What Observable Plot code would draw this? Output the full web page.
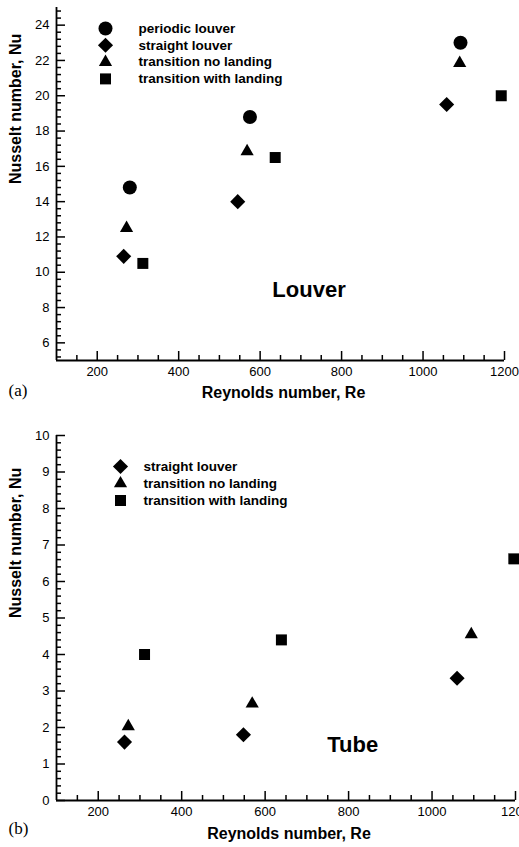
<!DOCTYPE html>
<html><head><meta charset="utf-8">
<script src="https://cdn.jsdelivr.net/npm/d3@7"></script>
<script src="https://cdn.jsdelivr.net/npm/@observablehq/plot@0.6"></script>
<style>body{margin:0;background:#fff;} #chart svg{display:block;overflow:visible}</style>
</head><body><div id="chart"></div>
<script>
// ---- data ----
const seriesNames = ["periodic louver", "straight louver", "transition no landing", "transition with landing"];

const louverPeriodicRe = [280, 575, 1092];
const louverPeriodicNu = [14.8, 18.8, 23.0];
const louverStraightRe = [265, 545, 1058];
const louverStraightNu = [10.9, 14.0, 19.5];
const louverNoLandRe = [272, 568, 1090];
const louverNoLandNu = [12.5, 16.85, 21.85];
const louverLandRe = [312, 637, 1192];
const louverLandNu = [10.5, 16.5, 20.0];

const tubeStraightRe = [263, 548, 1060];
const tubeStraightNu = [1.6, 1.8, 3.35];
const tubeNoLandRe = [272, 569, 1094];
const tubeNoLandNu = [2.03, 2.65, 4.55];
const tubeLandRe = [311, 639, 1196];
const tubeLandNu = [4.0, 4.4, 6.62];

const reTicks = [200, 400, 600, 800, 1000, 1200];
const louverNuTicks = [6, 8, 10, 12, 14, 16, 18, 20, 22, 24];
const tubeNuTicks = [0, 1, 2, 3, 4, 5, 6, 7, 8, 9, 10];

const xLabel = "Reynolds number, Re";
const yLabel = "Nusselt number, Nu";

// ---- helpers ----
const FONT = "Liberation Sans, Arial, Helvetica, sans-serif";
const W = 519, ML = 56, X0 = 100, X1 = 1200;
const zip = (xs, ys) => xs.map((x, i) => ({x, y: ys[i]}));
const symbolOf = {"periodic louver": "circle", "straight louver": "diamond2", "transition no landing": "triangle", "transition with landing": "square"};
const rOf = {"periodic louver": 7, "straight louver": 6.8, "transition no landing": 4.9, "transition with landing": 6.2};

const reMinor = d3.range(3, 24).map(i => i * 50).filter(v => v % 200 !== 0);

function panel(o) {
  const fh = o.height - o.marginTop - o.marginBottom;   // frame height (px)
  const fw = W - ML - o.marginRight;                     // frame width (px)
  const y0 = o.yDomain[0];
  const marks = [
    // inward tick marks (5 px minor, 9 px major)
    Plot.tickX(reMinor, {x: d => d, insetTop: fh - 5, strokeWidth: 1.5, stroke: "black"}),
    Plot.tickX(reTicks, {x: d => d, insetTop: fh - 9, strokeWidth: 1.5, stroke: "black"}),
    Plot.tickY(o.yMinor, {y: d => d, insetRight: fw - 5, strokeWidth: 1.5, stroke: "black"}),
    Plot.tickY(o.yMajor, {y: d => d, insetRight: fw - 9, strokeWidth: 1.5, stroke: "black"}),
    // axis lines
    Plot.ruleX([X0], {strokeWidth: 1.8, stroke: "black"}),
    Plot.ruleY([y0], {strokeWidth: 1.8, stroke: "black"})
  ];
  for (const s of o.series) {
    marks.push(Plot.dot(zip(s.re, s.nu), {x: "x", y: "y", symbol: symbolOf[s.name], r: rOf[s.name], fill: "black"}));
  }
  o.series.forEach((s, i) => {
    marks.push(Plot.dot([s.name], {frameAnchor: "top-left", dx: o.legDx, dy: o.legDy0 + i * o.legStep, symbol: symbolOf[s.name], r: rOf[s.name], fill: "black"}));
    marks.push(Plot.text([s.name], {frameAnchor: "top-left", dx: o.legTextDx, dy: o.legDy0 + i * o.legStep, text: d => d, textAnchor: "start", lineAnchor: "middle", fontWeight: "bold", fontSize: 13.5, fill: "black"}));
  });
  marks.push(
    Plot.text([xLabel], {frameAnchor: "bottom", dx: 3, dy: o.xLabelDy, text: d => d, lineAnchor: "bottom", fontWeight: "bold", fontSize: 16, fill: "black"}),
    Plot.text([yLabel], {frameAnchor: "left", dx: -41, text: d => d, rotate: -90, lineAnchor: "middle", fontWeight: "bold", fontSize: 16, fill: "black"}),
    Plot.text([o.tag], {frameAnchor: "bottom-left", dx: -48, dy: o.tagDy, text: d => d, textAnchor: "start", lineAnchor: "bottom", fontFamily: "Liberation Serif, Times New Roman, serif", fontSize: 17, fill: "black"}),
    Plot.text([o.note], {x: o.noteRe, y: o.noteNu, text: d => d, textAnchor: "start", lineAnchor: "bottom", fontWeight: "bold", fontSize: 22, fill: "black"})
  );
  return Plot.plot({
    width: W, height: o.height,
    marginLeft: ML, marginRight: o.marginRight, marginTop: o.marginTop, marginBottom: o.marginBottom,
    style: {fontFamily: FONT, fontSize: "13px"},
    x: {domain: [X0, X1], ticks: reTicks, tickSize: 0, tickPadding: 6, tickFormat: d => String(d), label: null},
    y: {domain: o.yDomain, ticks: o.yMajor, tickSize: 0, tickPadding: 7, tickFormat: d => String(d), label: null},
    marks
  });
}

const louverMinor = d3.range(13, 63).map(i => +(i * 0.4).toFixed(1)).filter(v => Math.abs(v / 2 - Math.round(v / 2)) > 1e-6);
const tubeMinor = d3.range(1, 50).map(i => +(i * 0.2).toFixed(1)).filter(v => Math.abs(v - Math.round(v)) > 1e-6);

const panelA = panel({
  series: [
    {name: seriesNames[0], re: louverPeriodicRe, nu: louverPeriodicNu},
    {name: seriesNames[1], re: louverStraightRe, nu: louverStraightNu},
    {name: seriesNames[2], re: louverNoLandRe, nu: louverNoLandNu},
    {name: seriesNames[3], re: louverLandRe, nu: louverLandNu}
  ],
  yDomain: [5, 25], yMajor: louverNuTicks, yMinor: louverMinor,
  height: 410, marginTop: 7, marginBottom: 50, marginRight: 15,
  legDx: 49, legTextDx: 82, legDy0: 21, legStep: 16.8,
  xLabelDy: 37, tag: "(a)", tagDy: 35, note: "Louver", noteRe: 630, noteNu: 8.6
});
const panelB = panel({
  series: [
    {name: seriesNames[1], re: tubeStraightRe, nu: tubeStraightNu},
    {name: seriesNames[2], re: tubeNoLandRe, nu: tubeNoLandNu},
    {name: seriesNames[3], re: tubeLandRe, nu: tubeLandNu}
  ],
  yDomain: [0, 10], yMajor: tubeNuTicks, yMinor: tubeMinor,
  height: 437, marginTop: 25, marginBottom: 47, marginRight: 4,
  legDx: 64, legTextDx: 87, legDy0: 31, legStep: 17,
  xLabelDy: 38, tag: "(b)", tagDy: 33, note: "Tube", noteRe: 749, noteNu: 1.32
});
document.getElementById("chart").append(panelA, panelB);
</script></body></html>
